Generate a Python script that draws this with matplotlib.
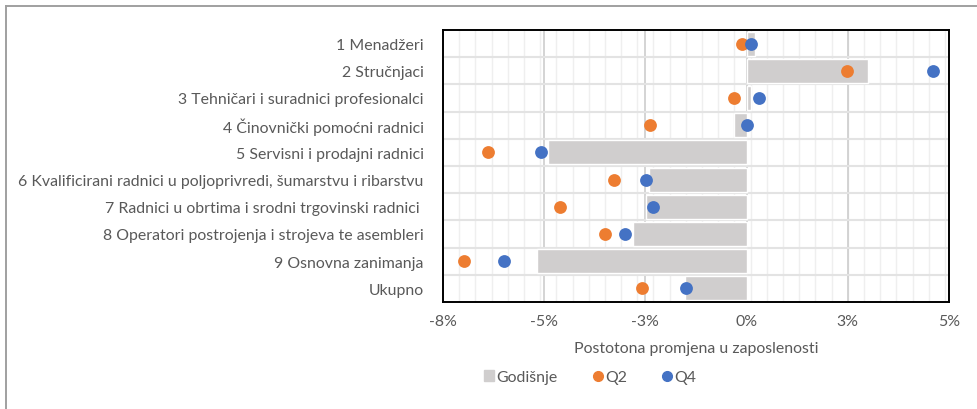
import matplotlib.pyplot as plt
from matplotlib.ticker import FixedLocator, FuncFormatter
from matplotlib.lines import Line2D
from matplotlib.patches import Patch

# data (percent change in employment)
categories = ["1 Menadžeri", "2 Stručnjaci", "3 Tehničari i suradnici profesionalci",
              "4 Činovnički pomoćni radnici", "5 Servisni i prodajni radnici",
              "6 Kvalificirani radnici u poljoprivredi, šumarstvu i ribarstvu",
              "7 Radnici u obrtima i srodni trgovinski radnici ",
              "8 Operatori postrojenja i strojeva te asembleri",
              "9 Osnovna zanimanja", "Ukupno"]
godisnje = [0.21, 3.01, 0.12, -0.32, -4.90, -2.40, -2.49, -2.80, -5.19, -1.51]
q2 = [-0.11, 2.49, -0.31, -2.39, -6.39, -3.28, -4.60, -3.49, -6.99, -2.59]
q4 = [0.10, 4.60, 0.31, 0.00, -5.09, -2.49, -2.30, -3.00, -5.99, -1.50]
x_ticks = [-7.5, -5, -2.5, 0, 2.5, 5]

grey_txt = "#595959"
fs = 11.4
plt.rcParams['font.family'] = ['Lato', 'DejaVu Sans']

fig = plt.figure(figsize=(9.78, 4.1), dpi=100)
ax = fig.add_axes([443 / 978, 1 - 303 / 410, (949 - 443) / 978, (303 - 31) / 410])

y = list(range(len(categories)))
ax.barh(y, godisnje, height=0.88, color="#d0cece", edgecolor="white", linewidth=1, zorder=3)
ax.scatter(q2, y, s=85, color="#ed7d31", zorder=4, linewidths=0)
ax.scatter(q4, y, s=85, color="#4472c4", zorder=5, linewidths=0)

ax.set_xlim(-7.5, 5)
ax.set_ylim(len(categories) - 0.5, -0.5)

# gridlines
minor = [-7.5 + 0.4 * k for k in range(1, 32)]
for m in minor:
    ax.axvline(m, color="#efefef", lw=1, zorder=1)
for t in x_ticks:
    ax.axvline(t, color="#cdcdcd", lw=1.2, zorder=2)
for b in range(1, len(categories)):
    ax.axhline(b - 0.5, color="#e3e3e3", lw=1.5, zorder=2)

ax.xaxis.set_major_locator(FixedLocator(x_ticks))
ax.xaxis.set_major_formatter(FuncFormatter(lambda v, p: "%d%%" % round(v + (0.001 if v > 0 else -0.001))))
ax.set_yticks(y)
ax.set_yticklabels(categories)
ax.tick_params(axis="both", length=0, labelsize=fs, colors=grey_txt)
ax.tick_params(axis="y", pad=14)
ax.tick_params(axis="x", pad=9)
for s in ax.spines.values():
    s.set_color("black")
    s.set_linewidth(1.4)
    s.set_zorder(6)

ax.set_xlabel("Postotona promjena u zaposlenosti", fontsize=fs, color=grey_txt, labelpad=9)

handles = [Patch(color="#d0cece", label="Godišnje"),
           Line2D([], [], marker="o", ls="", color="#ed7d31", markersize=7, label="Q2"),
           Line2D([], [], marker="o", ls="", color="#4472c4", markersize=7, label="Q4")]
fig.legend(handles=handles, loc="center", bbox_to_anchor=(590 / 978, 1 - 378 / 410), ncol=3,
           frameon=False, fontsize=fs, labelcolor=grey_txt, handlelength=0.65, handleheight=0.65,
           handletextpad=0.15, columnspacing=2.2)

# outer chart frame (top and left edges visible)
fig.add_artist(Line2D([6.5 / 978, 1], [1 - 7 / 410, 1 - 7 / 410], color="#a0a0a0", lw=1.4))
fig.add_artist(Line2D([6.5 / 978, 6.5 / 978], [0, 1 - 7 / 410], color="#a0a0a0", lw=1.4))

fig.savefig("out.png", dpi=100)
